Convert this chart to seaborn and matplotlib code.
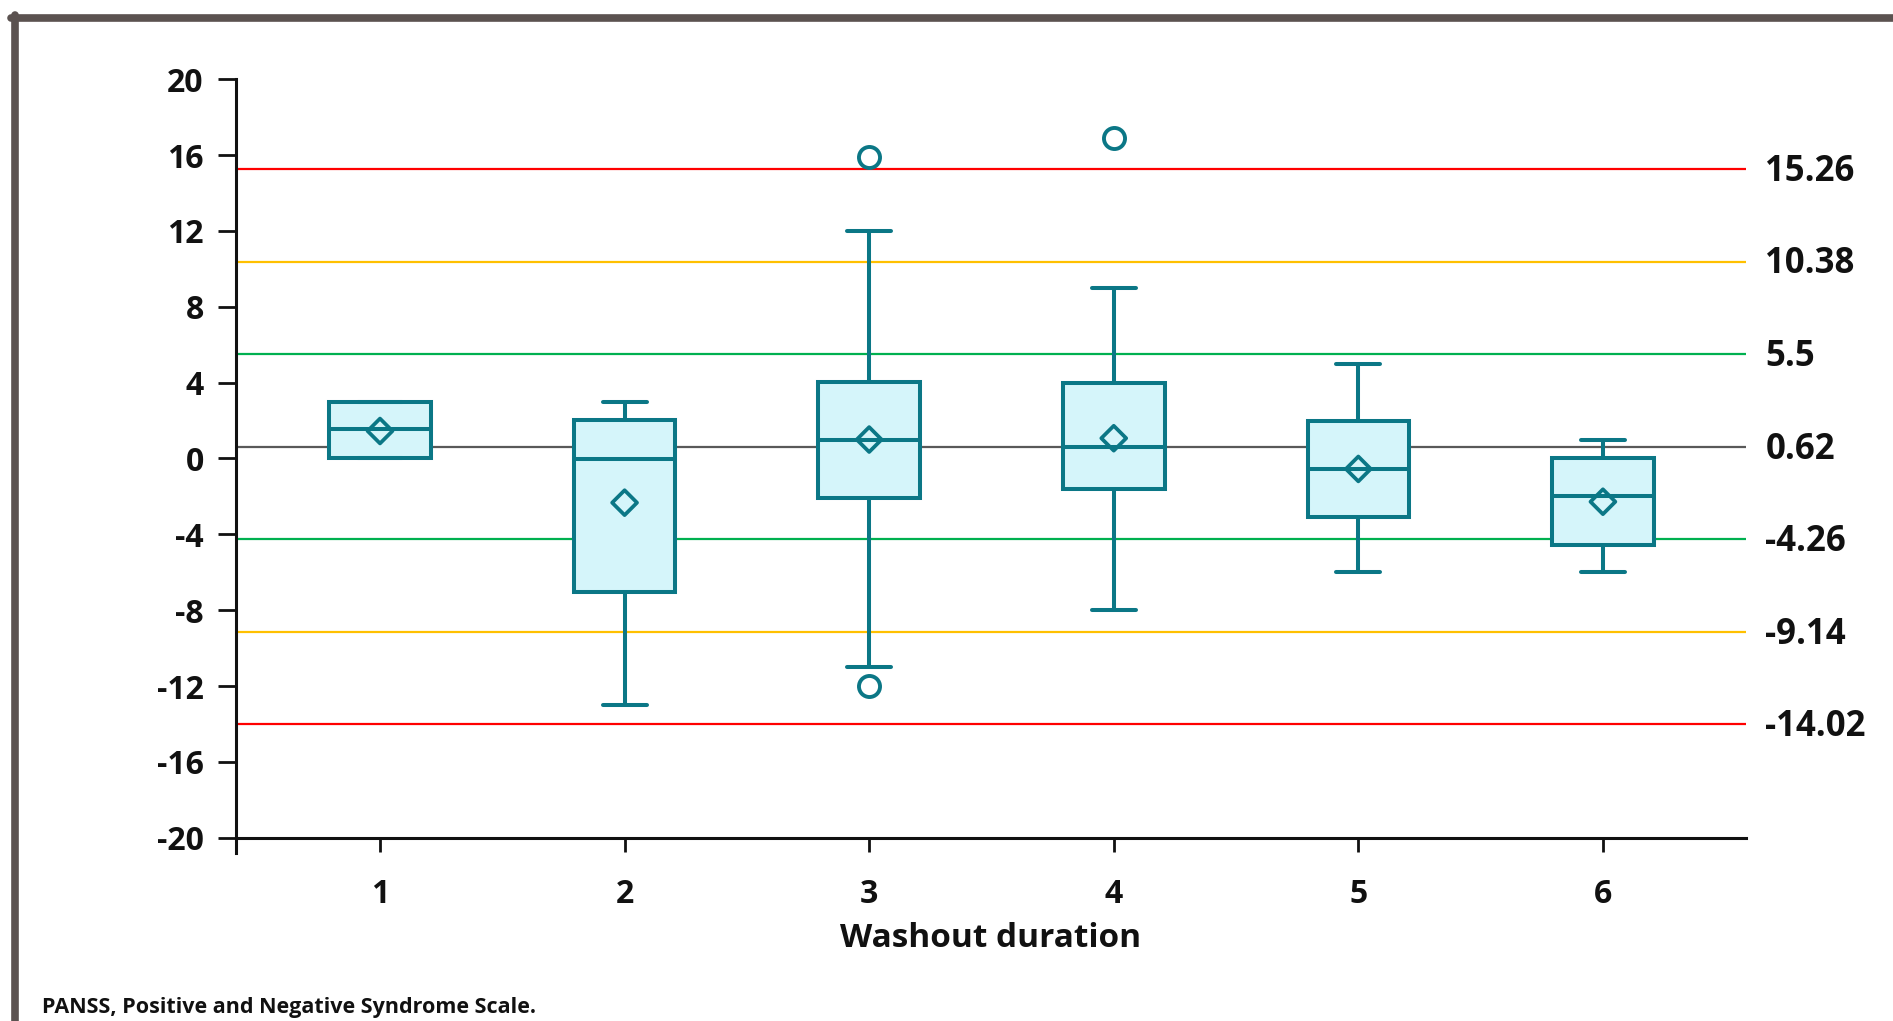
import numpy as np
import pandas as pd
import matplotlib
matplotlib.use("Agg")
import matplotlib.pyplot as plt
import seaborn as sns
from matplotlib.lines import Line2D

# Box summary per washout duration
washout = ["1", "2", "3", "4", "5", "6"]
q1 = [0, -7.05, -2.1, -1.6, -3.07, -4.56]
median = [1.54, -0.05, 0.96, 0.62, -0.55, -2.0]
q3 = [2.97, 2.03, 4.03, 4.0, 2.0, 0.03]
whisk_low = [0, -13, -11, -8, -6, -6]
whisk_high = [3, 3, 12, 9, 5, 1]
means = [1.45, -2.33, 1.0, 1.07, -0.55, -2.28]
outliers = [[], [], [15.9, -12.0], [16.92], [], []]

# Reference lines (mean +/- 1, 2, 3 SD)
ref_values = [15.26, 10.38, 5.5, 0.62, -4.26, -9.14, -14.02]
ref_labels = ["15.26", "10.38", "5.5", "0.62", "-4.26", "-9.14", "-14.02"]
ref_colors = ["#FF0000", "#FFC000", "#00B050", "#595959", "#00B050", "#FFC000", "#FF0000"]

y_ticks = [20, 16, 12, 8, 4, 0, -4, -8, -12, -16, -20]

edge = "#0B7786"
fill = "#D5F5FA"

sns.set_theme(style="ticks")
plt.rcParams["font.family"] = ["Open Sans", "DejaVu Sans"]

fig = plt.figure(figsize=(18.93, 10.21), dpi=100)
ax = fig.add_axes([235.7 / 1893, (1021 - 837.7) / 1021,
                   (1746 - 235.7) / 1893, (837.7 - 79.3) / 1021])

# reference lines
for val, col in zip(ref_values, ref_colors):
    ax.axhline(val, color=col, lw=1.6, zorder=1)
for val, lab in zip(ref_values, ref_labels):
    ax.annotate(lab, xy=(1, val), xycoords=("axes fraction", "data"),
                xytext=(14, -2), textcoords="offset points",
                ha="left", va="center", fontsize=25, fontweight="bold",
                color="#111111", annotation_clip=False)

# boxes
stats = []
for i in range(len(washout)):
    stats.append({"q1": q1[i], "med": median[i], "q3": q3[i],
                  "whislo": whisk_low[i], "whishi": whisk_high[i],
                  "fliers": [], "label": washout[i]})
ax.bxp(stats, positions=range(len(washout)), widths=0.415, patch_artist=True,
       showfliers=False, showmeans=False,
       boxprops=dict(facecolor=fill, edgecolor=edge, linewidth=2.9),
       medianprops=dict(color=edge, linewidth=2.9),
       whiskerprops=dict(color=edge, linewidth=2.9),
       capprops=dict(color=edge, linewidth=2.9),
       capwidths=0.18, zorder=3)

# means and outliers
mean_df = pd.DataFrame({"x": range(len(washout)), "mean": means})
sns.scatterplot(data=mean_df, x="x", y="mean", marker="D", s=160,
                facecolor="none", edgecolor=edge, linewidth=2.7, ax=ax, zorder=4)

out_x = [i for i, vals in enumerate(outliers) for v in vals]
out_y = [v for vals in outliers for v in vals]
out_df = pd.DataFrame({"x": out_x, "value": out_y})
sns.scatterplot(data=out_df, x="x", y="value", marker="o", s=230,
                facecolor="white", edgecolor=edge, linewidth=2.8, ax=ax, zorder=4)

ax.set_xlim(-0.59, 5.585)
ax.set_ylim(-20, 20)
ax.set_yticks(y_ticks)
ax.set_yticklabels([str(t) for t in y_ticks])
ax.set_xticks(range(len(washout)))
ax.set_xticklabels(washout)
ax.set_xlabel("Washout duration", fontsize=24, fontweight="bold",
              color="#111111", labelpad=8)
ax.set_ylabel("")

sns.despine(ax=ax)
for side in ["left", "bottom"]:
    ax.spines[side].set_linewidth(2.2)
    ax.spines[side].set_color("#111111")
ax.spines["left"].set_bounds(-20.8, 20)
ax.tick_params(axis="y", length=13, width=2, pad=10, labelsize=23, colors="#111111")
ax.tick_params(axis="x", length=10, width=2, pad=19, labelsize=23, colors="#111111")
for lab in ax.get_xticklabels() + ax.get_yticklabels():
    lab.set_fontweight("bold")
ax.set_facecolor("white")
ax.grid(False)

# outer frame of the figure panel
fig.add_artist(Line2D([11 / 1893, 1], [1 - 18 / 1021, 1 - 18 / 1021],
                      color="#5B5250", lw=5.5, transform=fig.transFigure))
fig.add_artist(Line2D([14.5 / 1893, 14.5 / 1893], [0, 1 - 15 / 1021],
                      color="#5B5250", lw=5.5, transform=fig.transFigure))

fig.text(42 / 1893, 1 - 1013 / 1021, "PANSS, Positive and Negative Syndrome Scale.",
         fontsize=15.5, fontweight="bold", color="#111111", va="baseline")

fig.savefig("out.png", dpi=100, facecolor="white")
